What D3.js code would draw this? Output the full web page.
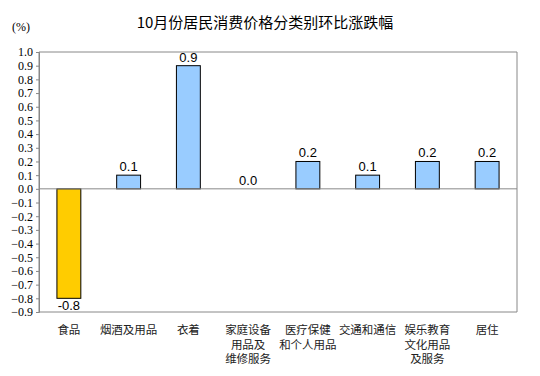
<!DOCTYPE html>
<html>
<head>
<meta charset="utf-8">
<script src="https://cdn.jsdelivr.net/npm/d3@7"></script>
<style>
  body { margin: 0; background: #fff; }
  svg { display: block; }
</style>
</head>
<body>
<div id="chart"></div>
<script>
// categories (label lines) and month-on-month change, %
const categories = [
  ["食品"],
  ["烟酒及用品"],
  ["衣着"],
  ["家庭设备", "用品及", "维修服务"],
  ["医疗保健", "和个人用品"],
  ["交通和通信"],
  ["娱乐教育", "文化用品", "及服务"],
  ["居住"]
];
const values = [-0.8, 0.1, 0.9, 0.0, 0.2, 0.1, 0.2, 0.2];
const yTicks = [1.0, 0.9, 0.8, 0.7, 0.6, 0.5, 0.4, 0.3, 0.2, 0.1, 0.0,
  -0.1, -0.2, -0.3, -0.4, -0.5, -0.6, -0.7, -0.8, -0.9];
const title = "10月份居民消费价格分类别环比涨跌幅";

const width = 540, height = 376;
const plotL = 39, plotR = 517, plotT = 52, plotB = 312;

const svg = d3.select("#chart").append("svg")
  .attr("width", width)
  .attr("height", height);

const x = d3.scaleBand()
  .domain(d3.range(categories.length))
  .range([plotL, plotR])
  .paddingInner(0.6)
  .paddingOuter(0.3);

const y = d3.scaleLinear()
  .domain([-0.9, 1.0])
  .range([plotB, plotT]);

// title + unit
svg.append("text")
  .attr("x", 265).attr("y", 28)
  .attr("text-anchor", "middle")
  .style("font-family", "'Noto Sans CJK SC', sans-serif")
  .style("font-size", "15px")
  .text(title);

svg.append("text")
  .attr("x", 12).attr("y", 31)
  .style("font-family", "'Liberation Serif', serif")
  .style("font-size", "12px")
  .text("(%)");

// plot frame (left, top, right)
svg.append("path")
  .attr("d", `M${plotL},${plotB}V${plotT}H${plotR}V${plotB}`)
  .attr("fill", "none")
  .attr("stroke", "#888")
  .attr("stroke-width", 1);

// y axis
const yAxis = svg.append("g")
  .attr("transform", `translate(${plotL},0)`)
  .call(d3.axisLeft(y).tickValues(yTicks).tickSize(3).tickPadding(3)
    .tickFormat(d3.format(".1f")));
yAxis.select(".domain").attr("stroke", "#888");
yAxis.selectAll(".tick line").attr("stroke", "#888");
yAxis.selectAll("text")
  .style("font-family", "'Liberation Serif', serif")
  .style("font-size", "12px")
  .attr("fill", "#000");

// bottom line
svg.append("line")
  .attr("x1", plotL).attr("x2", plotR)
  .attr("y1", plotB).attr("y2", plotB)
  .attr("stroke", "#888");

// bars
svg.selectAll("rect.bar")
  .data(values)
  .join("rect")
  .attr("class", "bar")
  .attr("x", (d, i) => x(i))
  .attr("width", x.bandwidth())
  .attr("y", d => y(Math.max(0, d)))
  .attr("height", d => Math.abs(y(d) - y(0)))
  .attr("fill", d => d < 0 ? "#FFCC00" : "#99CCFF")
  .attr("stroke", "#000")
  .attr("stroke-width", 1)
  .style("display", d => d === 0 ? "none" : null);

// zero line
svg.append("line")
  .attr("x1", plotL).attr("x2", plotR)
  .attr("y1", y(0)).attr("y2", y(0))
  .attr("stroke", "#888");

// value labels
svg.selectAll("text.val")
  .data(values)
  .join("text")
  .attr("class", "val")
  .attr("x", (d, i) => x(i) + x.bandwidth() / 2)
  .attr("y", d => d < 0 ? y(d) + 12 : y(d) - 4)
  .attr("text-anchor", "middle")
  .style("font-family", "'Liberation Sans', Arial, sans-serif")
  .style("font-size", "13px")
  .text(d => d.toFixed(1));

// category labels
const cat = svg.selectAll("text.cat")
  .data(categories)
  .join("text")
  .attr("class", "cat")
  .attr("x", (d, i) => x(i) + x.bandwidth() / 2)
  .attr("y", 334)
  .attr("text-anchor", "middle")
  .style("font-family", "'Noto Sans CJK SC', sans-serif")
  .style("font-size", "11.5px")
  .attr("fill", "#222");

cat.selectAll("tspan")
  .data(d => d)
  .join("tspan")
  .attr("x", function() { return d3.select(this.parentNode).attr("x"); })
  .attr("dy", (d, i) => i === 0 ? 0 : 14.5)
  .text(d => d);
</script>
</body>
</html>
